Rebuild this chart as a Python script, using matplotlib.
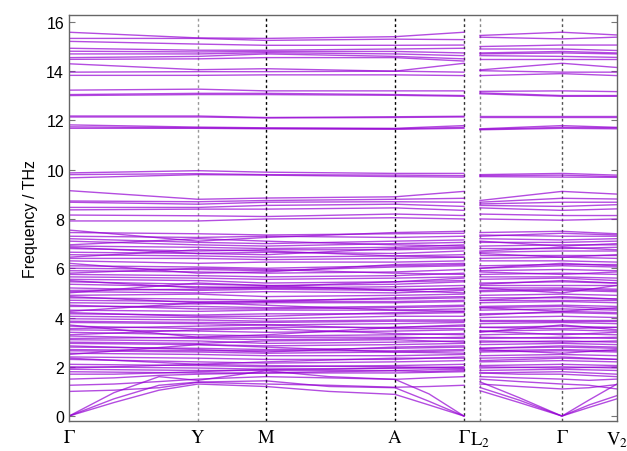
import matplotlib
matplotlib.use('Agg')
import matplotlib.pyplot as plt
import numpy as np

plt.rcParams['font.family'] = 'Liberation Sans'
plt.rcParams['mathtext.fontset'] = 'stix'

# path distances of the high-symmetry points (two disconnected pieces)
node_x1 = [0.00, 1.29, 1.97, 3.26, 3.95]          # G Y M A G
node_x2 = [4.11, 4.93, 5.48]                      # L2 G V2
node_labels = [r'$\Gamma$', r'$\mathrm{Y}$', r'$\mathrm{M}$', r'$\mathrm{A}$', r'$\Gamma$',
               r'$\mathrm{L_2}$', r'$\Gamma$', r'$\mathrm{V_2}$']

# finer sampling used for the acoustic / low optical branches
fine_x1 = [0.00, 0.45, 0.90, 1.29, 1.97, 2.60, 3.26, 3.60, 3.95]
fine_x2 = [4.11, 4.50, 4.93, 5.20, 5.48]

# optical bands: frequency (THz) at G, Y, M, A, G, L2, G, V2
upper_bands = [
    [15.58, 15.35, 15.33, 15.40, 15.58, 15.45, 15.58, 15.47],
    [15.33, 15.33, 15.25, 15.30, 15.28, 15.38, 15.31, 15.38],
    [15.21, 15.10, 15.05, 15.05, 15.06, 15.00, 15.06, 15.06],
    [14.93, 14.85, 14.85, 14.90, 14.93, 14.90, 14.90, 14.84],
    [14.81, 14.78, 14.80, 14.80, 14.74, 14.74, 14.80, 14.74],
    [14.70, 14.70, 14.75, 14.70, 14.63, 14.70, 14.74, 14.70],
    [14.55, 14.60, 14.70, 14.60, 14.50, 14.63, 14.60, 14.56],
    [14.48, 14.50, 14.55, 14.55, 14.41, 14.50, 14.50, 14.50],
    [14.30, 14.06, 14.10, 14.00, 14.32, 14.05, 14.32, 14.15],
    [13.96, 13.98, 13.98, 14.00, 13.96, 14.02, 13.96, 13.96],
    [13.83, 13.83, 13.85, 13.85, 13.82, 13.82, 13.90, 13.82],
    [13.23, 13.27, 13.20, 13.20, 13.20, 13.18, 13.20, 13.17],
    [13.05, 13.10, 13.10, 13.05, 13.01, 13.12, 13.01, 13.01],
    [13.01, 13.05, 13.05, 13.02, 12.98, 13.08, 12.98, 12.98],
    [12.18, 12.18, 12.12, 12.15, 12.17, 12.17, 12.17, 12.17],
    [12.14, 12.14, 12.10, 12.12, 12.14, 12.14, 12.14, 12.14],
    [11.82, 11.73, 11.70, 11.68, 11.79, 11.66, 11.79, 11.72],
    [11.74, 11.70, 11.68, 11.66, 11.72, 11.64, 11.72, 11.70],
    [11.68, 11.68, 11.66, 11.64, 11.68, 11.62, 11.68, 11.66],
    [9.87, 9.96, 9.90, 9.85, 9.85, 9.80, 9.85, 9.78],
    [9.80, 9.84, 9.80, 9.78, 9.76, 9.76, 9.78, 9.72],
    [9.67, 9.80, 9.78, 9.72, 9.70, 9.72, 9.70, 9.69],
    [9.15, 8.80, 8.85, 8.90, 9.12, 8.75, 9.12, 9.01],
    [8.73, 8.70, 8.75, 8.80, 8.84, 8.68, 8.84, 8.81],
    [8.68, 8.60, 8.68, 8.70, 8.68, 8.61, 8.68, 8.68],
    [8.47, 8.47, 8.55, 8.60, 8.51, 8.55, 8.51, 8.58],
    [8.37, 8.40, 8.40, 8.45, 8.35, 8.45, 8.35, 8.41],
    [8.16, 8.13, 8.10, 8.20, 8.14, 8.20, 8.14, 8.14],
    [7.92, 7.92, 8.00, 8.05, 8.00, 8.00, 7.95, 8.00],
]

mid_bands = [
    [7.55, 7.10, 7.25, 7.45, 7.50, 7.45, 7.50, 7.40],
    [7.45, 7.40, 7.35, 7.40, 7.42, 7.30, 7.42, 7.35],
    [7.30, 7.25, 7.30, 7.25, 7.30, 7.35, 7.30, 7.30],
    [7.20, 7.05, 7.00, 7.10, 7.15, 7.20, 7.15, 7.20],
    [7.10, 6.95, 6.90, 7.00, 7.05, 7.05, 7.05, 7.10],
    [6.95, 7.20, 7.10, 6.95, 6.90, 7.10, 6.90, 7.00],
    [6.90, 6.85, 6.80, 6.85, 6.95, 6.90, 6.95, 6.95],
    [6.85, 6.60, 6.55, 6.80, 6.85, 6.70, 6.85, 6.75],
    [6.80, 6.70, 6.75, 6.75, 6.80, 6.80, 6.80, 6.85],
    [6.65, 6.60, 6.65, 6.60, 6.70, 6.65, 6.70, 6.70],
    [6.55, 6.50, 6.45, 6.50, 6.55, 6.55, 6.55, 6.55],
    [6.45, 6.75, 6.70, 6.50, 6.45, 6.60, 6.45, 6.55],
    [6.40, 6.40, 6.35, 6.40, 6.45, 6.40, 6.45, 6.40],
    [6.30, 6.20, 6.25, 6.25, 6.30, 6.30, 6.30, 6.25],
    [6.20, 5.80, 5.85, 6.15, 6.20, 6.00, 6.20, 6.10],
    [6.10, 6.05, 6.00, 6.10, 6.15, 6.10, 6.15, 6.15],
    [6.00, 5.95, 5.90, 6.05, 6.10, 6.00, 6.10, 6.05],
    [5.90, 5.85, 5.80, 5.85, 5.95, 5.90, 5.95, 5.90],
    [5.80, 6.00, 5.95, 5.80, 5.75, 5.85, 5.75, 5.85],
    [5.75, 5.70, 5.65, 5.70, 5.80, 5.75, 5.80, 5.75],
    [5.65, 5.60, 5.55, 5.60, 5.65, 5.65, 5.65, 5.60],
    [5.55, 5.50, 5.40, 5.45, 5.60, 5.55, 5.60, 5.50],
    [5.50, 5.20, 5.25, 5.45, 5.50, 5.35, 5.50, 5.40],
    [5.45, 5.35, 5.30, 5.35, 5.45, 5.40, 5.45, 5.40],
    [5.35, 5.25, 5.20, 5.25, 5.30, 5.30, 5.30, 5.30],
    [5.20, 5.10, 5.15, 5.10, 5.20, 5.20, 5.20, 5.15],
    [5.10, 5.15, 5.20, 5.15, 5.15, 5.10, 5.15, 5.10],
    [5.05, 5.00, 5.05, 5.00, 5.10, 5.05, 5.10, 5.05],
    [5.00, 5.40, 5.30, 5.10, 5.00, 5.20, 5.00, 5.30],
    [4.90, 4.95, 4.85, 4.90, 4.95, 4.90, 4.95, 4.90],
    [4.85, 4.60, 4.65, 4.80, 4.85, 4.70, 4.85, 4.75],
    [4.80, 4.75, 4.70, 4.75, 4.80, 4.80, 4.80, 4.75],
    [4.70, 4.65, 4.65, 4.65, 4.70, 4.70, 4.70, 4.70],
    [4.60, 4.55, 4.60, 4.60, 4.65, 4.60, 4.65, 4.60],
    [4.50, 4.35, 4.35, 4.40, 4.45, 4.40, 4.45, 4.35],
    [4.45, 4.45, 4.40, 4.45, 4.50, 4.45, 4.50, 4.45],
    [4.30, 4.25, 4.30, 4.30, 4.35, 4.30, 4.35, 4.30],
    [4.25, 4.60, 4.50, 4.30, 4.25, 4.40, 4.25, 4.40],
    [4.20, 4.05, 4.05, 4.20, 4.25, 4.10, 4.25, 4.20],
    [4.15, 4.10, 4.15, 4.15, 4.20, 4.15, 4.20, 4.15],
    [4.05, 4.00, 3.95, 4.05, 4.05, 4.00, 4.05, 4.00],
    [3.95, 3.90, 3.85, 3.90, 3.90, 3.90, 3.90, 3.90],
    [3.85, 3.80, 3.80, 3.85, 3.85, 3.85, 3.85, 3.85],
    [3.80, 3.75, 3.70, 3.75, 3.80, 3.75, 3.80, 3.75],
    [3.70, 3.20, 3.30, 3.60, 3.70, 3.40, 3.70, 3.50],
    [3.65, 3.55, 3.60, 3.60, 3.65, 3.60, 3.65, 3.60],
    [3.55, 3.65, 3.70, 3.55, 3.55, 3.60, 3.55, 3.60],
    [3.50, 3.45, 3.40, 3.45, 3.50, 3.45, 3.50, 3.45],
    [3.40, 3.30, 3.25, 3.30, 3.35, 3.30, 3.35, 3.30],
    [3.30, 3.50, 3.55, 3.35, 3.30, 3.45, 3.30, 3.40],
    [3.25, 3.15, 3.10, 3.15, 3.20, 3.15, 3.20, 3.15],
    [3.15, 3.20, 3.20, 3.20, 3.15, 3.20, 3.15, 3.20],
    [3.10, 3.05, 2.95, 3.00, 3.05, 3.00, 3.05, 3.00],
    [3.00, 2.95, 3.05, 3.10, 3.00, 3.05, 3.00, 3.05],
    [2.95, 2.90, 2.85, 2.90, 2.95, 2.90, 2.95, 2.90],
    [2.85, 2.70, 2.60, 2.80, 2.85, 2.75, 2.85, 2.80],
    [2.80, 2.75, 2.70, 2.75, 2.80, 2.75, 2.80, 2.75],
    [2.70, 2.65, 2.65, 2.65, 2.70, 2.65, 2.70, 2.65],
    [2.65, 2.60, 2.55, 2.60, 2.65, 2.60, 2.65, 2.60],
    [2.55, 2.50, 2.45, 2.45, 2.50, 2.45, 2.50, 2.45],
    [2.50, 2.90, 2.80, 2.60, 2.55, 2.70, 2.55, 2.70],
    [2.40, 2.35, 2.30, 2.30, 2.40, 2.35, 2.40, 2.30],
    [2.35, 2.10, 2.20, 2.35, 2.35, 2.25, 2.35, 2.30],
    [2.30, 2.20, 2.15, 2.20, 2.25, 2.20, 2.25, 2.20],
    [2.10, 2.05, 2.00, 2.05, 2.10, 2.05, 2.10, 2.05],
    [2.00, 1.95, 1.90, 1.95, 2.00, 1.95, 2.00, 1.95],
    [1.95, 2.10, 2.05, 2.00, 1.95, 2.00, 1.95, 2.00],
    [1.90, 1.85, 1.85, 1.85, 1.90, 1.85, 1.90, 1.85],
    [1.80, 1.75, 1.75, 1.75, 1.80, 1.75, 1.80, 1.70],
]

# acoustic and lowest optical branches on the finer path
low_bands_1 = [
    [0.00, 0.55, 1.05, 1.30, 1.20, 1.00, 0.88, 0.45, 0.00],
    [0.00, 0.70, 1.25, 1.38, 1.43, 1.20, 1.15, 0.60, 0.00],
    [0.00, 0.95, 1.60, 1.45, 1.84, 1.60, 1.49, 0.90, 0.00],
    [1.00, 1.05, 1.15, 1.37, 1.30, 1.25, 1.17, 1.20, 1.25],
    [1.25, 1.30, 1.40, 1.50, 1.60, 1.55, 1.49, 1.55, 1.60],
    [1.50, 1.55, 1.65, 1.70, 1.75, 1.80, 1.84, 1.80, 1.85],
    [1.70, 1.70, 1.75, 1.80, 1.90, 1.90, 1.95, 1.95, 1.95],
]
low_bands_2 = [
    [1.03, 0.55, 0.00, 0.35, 0.70],
    [1.16, 0.65, 0.00, 0.45, 0.83],
    [1.39, 0.75, 0.00, 0.65, 1.30],
    [1.30, 1.20, 1.10, 1.15, 1.28],
    [1.50, 1.40, 1.30, 1.25, 1.10],
    [1.60, 1.55, 1.50, 1.45, 1.50],
    [1.75, 1.70, 1.70, 1.65, 1.60],
]

band_color = '#9400D3'
band_lw = 1.0

fig = plt.figure(figsize=(6.27, 4.52), dpi=100)
ax = fig.add_axes([0.110, 0.0664, 0.874, 0.8982])

for band in upper_bands + mid_bands:
    ax.plot(node_x1, band[:5], color=band_color, lw=band_lw, alpha=0.7)
    ax.plot(node_x2, band[5:], color=band_color, lw=band_lw, alpha=0.7)
for b1, b2 in zip(low_bands_1, low_bands_2):
    ax.plot(fine_x1, b1, color=band_color, lw=band_lw, alpha=0.7)
    ax.plot(fine_x2, b2, color=band_color, lw=band_lw, alpha=0.7)

# dashed markers at the high-symmetry points
vline_colors = ['#999999', 'black', 'black', '#333333', '#888888', '#555555']
for xv, c in zip(node_x1[1:] + node_x2[:2], vline_colors):
    ax.axvline(xv, color=c, lw=1.0, ls=(0, (2, 2)), zorder=0.5)

ax.set_xlim(0, 5.48)
ax.set_ylim(-0.2, 16.28)
ax.set_yticks(np.arange(0, 17, 2))
ax.tick_params(axis='y', direction='in', length=4, right=True, labelsize=11.5,
               color='#777777')
ax.set_xticks(node_x1 + node_x2)
ax.set_xticklabels(node_labels, fontsize=13.5)
ax.tick_params(axis='x', length=0, pad=6)
for s in ax.spines.values():
    s.set_color('#666666')
    s.set_linewidth(1.0)
ax.set_ylabel('Frequency / THz', fontsize=11.5, labelpad=6)

plt.savefig('out.png', dpi=100)
